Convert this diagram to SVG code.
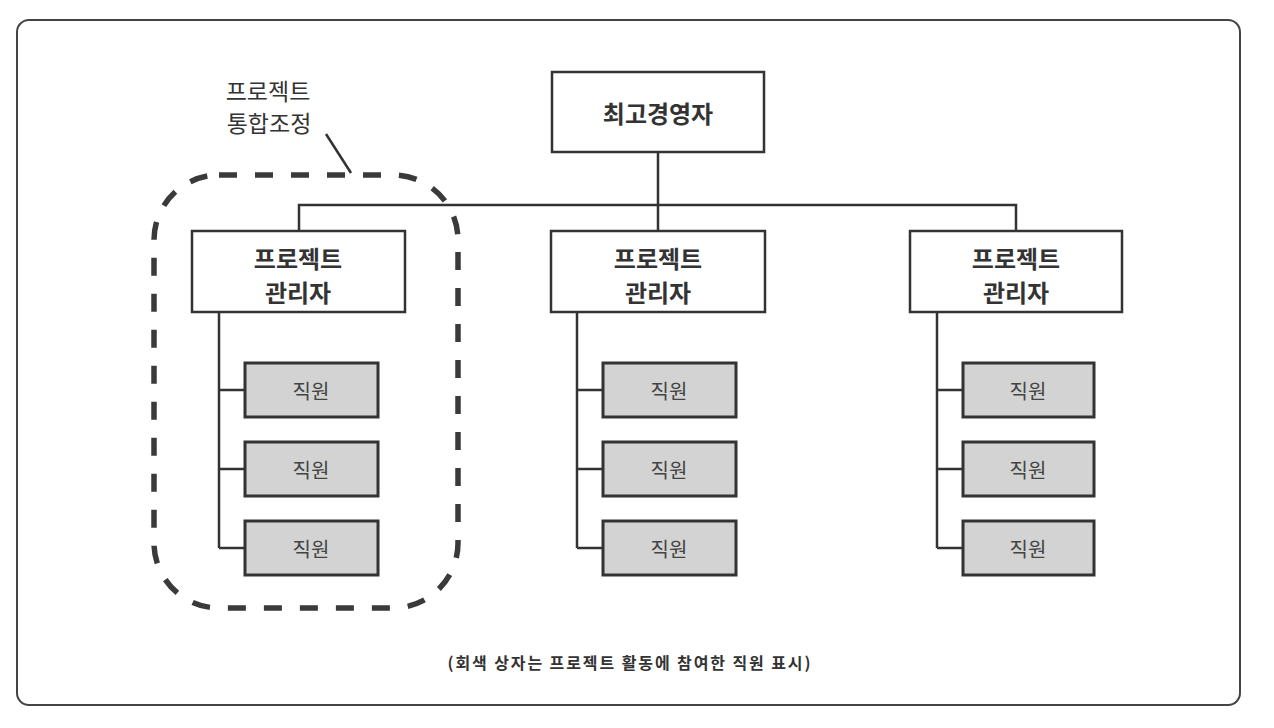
<svg xmlns="http://www.w3.org/2000/svg" width="1274" height="728" viewBox="0 0 1274 728">
<style>
text{font-family:"Noto Sans CJK KR","Noto Sans",sans-serif;fill:#333;text-anchor:middle;dominant-baseline:central}
.box{fill:#fff;stroke:#333;stroke-width:2.5}
.staff{fill:#d3d3d3;stroke:#333;stroke-width:3}
.b{font-weight:bold;font-size:24px}
.s{font-size:20px;fill:#444}
.c{fill:none;stroke:#333;stroke-width:2.5}
</style>
<rect x="17" y="20" width="1223" height="685" rx="12" fill="#fff" stroke="#444" stroke-width="2"/>
<g id="connectors" class="c">
<path d="M658,152V205M299,231V205H1016V231M658,205V231"/>
<path d="M219,312V548M219,390H245M219,469H245M219,548H245"/>
<path d="M577,312V548M577,390H603M577,469H603M577,548H603"/>
<path d="M937,312V548M937,390H963M937,469H963M937,548H963"/>
</g>
<g id="ceo"><rect class="box" x="552" y="72" width="212" height="80"/><text class="b" x="658" y="112">최고경영자</text></g>
<g id="pm1"><rect class="box" x="192" y="231" width="213" height="81"/><text class="b" x="298" y="257">프로젝트</text><text class="b" x="298" y="291">관리자</text></g>
<g id="pm2"><rect class="box" x="551" y="231" width="214" height="81"/><text class="b" x="658" y="257">프로젝트</text><text class="b" x="658" y="291">관리자</text></g>
<g id="pm3"><rect class="box" x="910" y="231" width="212" height="81"/><text class="b" x="1016" y="257">프로젝트</text><text class="b" x="1016" y="291">관리자</text></g>
<g id="s11"><rect class="staff" x="245" y="363" width="133" height="54"/><text class="s" x="311" y="390">직원</text></g>
<g id="s12"><rect class="staff" x="245" y="442" width="133" height="54"/><text class="s" x="311" y="469">직원</text></g>
<g id="s13"><rect class="staff" x="245" y="521" width="133" height="54"/><text class="s" x="311" y="548">직원</text></g>
<g id="s21"><rect class="staff" x="603" y="363" width="133" height="54"/><text class="s" x="669" y="390">직원</text></g>
<g id="s22"><rect class="staff" x="603" y="442" width="133" height="54"/><text class="s" x="669" y="469">직원</text></g>
<g id="s23"><rect class="staff" x="603" y="521" width="133" height="54"/><text class="s" x="669" y="548">직원</text></g>
<g id="s31"><rect class="staff" x="963" y="363" width="131" height="54"/><text class="s" x="1028" y="390">직원</text></g>
<g id="s32"><rect class="staff" x="963" y="442" width="131" height="54"/><text class="s" x="1028" y="469">직원</text></g>
<g id="s33"><rect class="staff" x="963" y="521" width="131" height="54"/><text class="s" x="1028" y="548">직원</text></g>
<g id="group">
<rect x="154" y="175" width="304" height="433" rx="65" fill="none" stroke="#3a3a3a" stroke-width="5.5" stroke-dasharray="18 18"/>
<line x1="326" y1="134" x2="351" y2="173" stroke="#333" stroke-width="2.5"/>
<text x="268" y="90" font-size="23" fill="#444">프로젝트</text>
<text x="269" y="122" font-size="23" fill="#444">통합조정</text>
</g>
<text x="629" y="662" font-size="16" font-weight="bold" textLength="363" lengthAdjust="spacing">(회색 상자는 프로젝트 활동에 참여한 직원 표시)</text>
</svg>
